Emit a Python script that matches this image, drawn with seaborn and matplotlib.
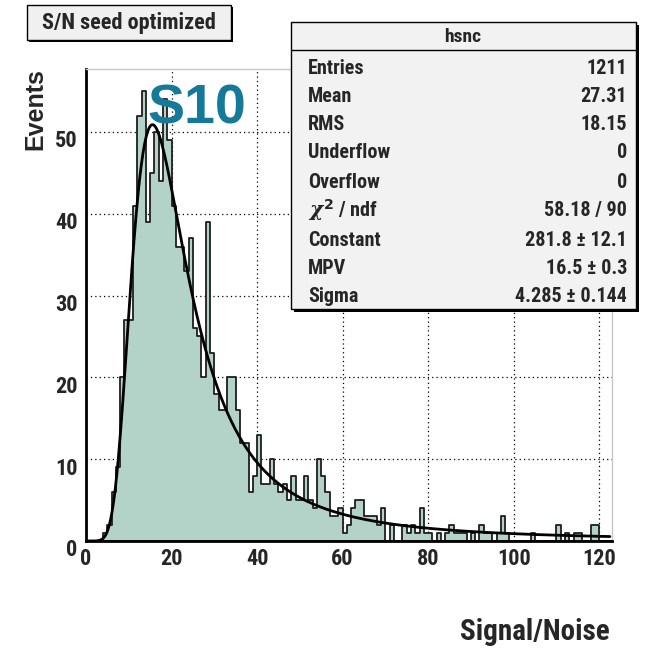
import numpy as np
import pandas as pd
import matplotlib
matplotlib.use("Agg")
import matplotlib.pyplot as plt
import seaborn as sns
from matplotlib.patches import Rectangle
from matplotlib.lines import Line2D
from matplotlib.ticker import MultipleLocator
from matplotlib.transforms import ScaledTranslation

# ---------------- data ----------------
hist_range = (0, 123)                  # 123 bins of width 1 (Signal/Noise)
counts = [0, 0, 0, 0, 1, 2, 6, 9, 20, 27,
          27, 41, 52, 55, 39, 45, 50, 44, 54, 49,
          41, 36, 36, 33, 37, 26, 25, 20, 39, 23,
          18, 16, 16, 20, 20, 16, 12, 12, 6, 8,
          13, 7, 7, 10, 7, 6, 7, 5, 8, 5,
          5, 8, 5, 4, 10, 8, 6, 3, 3, 4,
          1, 2, 4, 5, 5, 3, 3, 3, 2, 4,
          0, 2, 0, 0, 2, 1, 2, 1, 4, 1,
          1, 0, 1, 0, 1, 2, 1, 1, 1, 0,
          1, 0, 2, 1, 1, 0, 1, 3, 1, 0,
          0, 0, 0, 0, 1, 0, 0, 0, 0, 0,
          2, 0, 1, 0, 1, 1, 0, 0, 2, 2,
          0, 0, 0]

fit_constant = 281.8
fit_mpv = 16.5
fit_sigma = 4.285
fit_range = [0.0, 122.5]

x_ticks = [0, 20, 40, 60, 80, 100, 120]
y_ticks = [0, 10, 20, 30, 40, 50]

stat_labels = ["Entries", "Mean", "RMS", "Underflow", "Overflow",
               r"$\chi^{2}$ / ndf", "Constant", "MPV", "Sigma"]
stat_values = ["1211", "27.31", "18.15", "0", "0", "58.18 / 90",
               "281.8 ± 12.1", "16.5 ± 0.3", "4.285 ± 0.144"]

# ---------------- Landau (ROOT convention) ----------------
def landau_std(lam):
    lam = np.atleast_1d(lam).astype(float)
    z = (lam - np.log(np.pi / 2)) * 2 / np.pi
    th = np.linspace(-np.pi / 2, np.pi / 2, 6001)[1:-1]
    logV = (np.log(2 / np.pi) + np.log(np.pi / 2 + th) - np.log(np.cos(th))
            + (np.pi / 2 + th) * np.tan(th))
    logV = np.minimum(logV, 700)
    c = np.exp(-np.pi * z / 2)[:, None]
    integ = np.exp(logV[None, :] - c * np.exp(logV[None, :]))
    f = 0.5 * c[:, 0] * np.trapezoid(integ, th, axis=1)
    return f * 2 / np.pi

xs = np.linspace(fit_range[0], fit_range[1], 700)
ys = fit_constant * landau_std((xs - fit_mpv) / fit_sigma)

# ---------------- style ----------------
sns.set_style("white")
WIDE = ["Liberation Sans", "DejaVu Sans"]
NARROW = ["Roboto Condensed", "Liberation Sans", "DejaVu Sans"]
plt.rcParams["font.family"] = NARROW
plt.rcParams["font.weight"] = "bold"
plt.rcParams["mathtext.fontset"] = "custom"
plt.rcParams["mathtext.rm"] = "DejaVu Sans:bold"
plt.rcParams["mathtext.it"] = "DejaVu Serif:italic"

W, H = 646, 653
fig = plt.figure(figsize=(W / 100, H / 100), dpi=100)
fig.patch.set_facecolor("white")

def fx(px):
    return px / W

def fy(py):
    return 1 - py / H

ax = fig.add_axes([fx(86), fy(541), fx(612) - fx(86), fy(69) - fy(541)])

centers = np.arange(hist_range[0], hist_range[1]) + 0.5
df = pd.DataFrame({"sn": centers, "events": counts})
sns.histplot(data=df, x="sn", weights="events", binwidth=1, binrange=hist_range,
             element="step", fill=True, color="#b3d2c8", alpha=1,
             edgecolor="#1e1e1e", linewidth=1.3, ax=ax, zorder=2)
sns.lineplot(x=xs, y=ys, color="black", linewidth=2.0, ax=ax, zorder=3)

ax.set_xlim(0, 123)
ax.set_ylim(0, 57.7)
ax.set_xlabel("")
ax.set_ylabel("")
ax.set_xticks(x_ticks)
ax.set_yticks(y_ticks)
ax.xaxis.set_minor_locator(MultipleLocator(5))
ax.yaxis.set_minor_locator(MultipleLocator(2))
ax.tick_params(axis="both", which="both", direction="in", top=False, right=False,
               color="black", width=1.2)
ax.tick_params(axis="x", which="major", length=10, pad=5, labelsize=16)
ax.tick_params(axis="x", which="minor", length=6)
ax.tick_params(axis="y", which="major", length=10, pad=6, labelsize=16)
ax.tick_params(axis="y", which="minor", length=6)
ax.set_axisbelow(True)
ax.grid(True, which="major", linestyle=(0, (1, 2.5)), color="black", linewidth=0.9)
for s in ["left", "bottom"]:
    ax.spines[s].set_color("black")
    ax.spines[s].set_linewidth(2)
for s in ["top", "right"]:
    ax.spines[s].set_color("#c8c8c8")
    ax.spines[s].set_linewidth(1)
down = ScaledTranslation(0, -7 / 100, fig.dpi_scale_trans)
for lbl in ax.get_yticklabels():
    lbl.set_transform(lbl.get_transform() + down)

# ---------------- texts ----------------
def shadow_box(x0, y0, x1, y1, off=3, fc="#f2f2f2"):
    fig.patches.append(Rectangle((fx(x0 + off), fy(y1 + off)), fx(x1 - x0), fy(y0) - fy(y1),
                                 transform=fig.transFigure, fc="black", ec="none", zorder=5))
    fig.patches.append(Rectangle((fx(x0), fy(y1)), fx(x1 - x0), fy(y0) - fy(y1),
                                 transform=fig.transFigure, fc=fc, ec="black", lw=1, zorder=6))

shadow_box(27, 5, 231, 40, off=2, fc="#f0f0f0")
fig.text(fx(129), fy(23), "S/N seed optimized", ha="center", va="center",
         fontsize=16, fontweight="bold", zorder=7)

shadow_box(291, 22, 636, 309, off=3, fc="#f2f2f2")
fig.add_artist(Line2D([fx(291), fx(636)], [fy(50), fy(50)], color="black", lw=1,
                      transform=fig.transFigure, zorder=7))
fig.text(fx(463), fy(37), "hsnc", ha="center", va="center", fontsize=14,
         fontweight="bold", zorder=8)
row_y = [68, 97, 125, 153, 182, 210, 240, 268, 296]
for lab, val, yy in zip(stat_labels, stat_values, row_y):
    fig.text(fx(308), fy(yy), lab, ha="left", va="center", fontsize=14.5,
             fontweight="bold", zorder=8)
    fig.text(fx(627), fy(yy), val, ha="right", va="center", fontsize=14.5,
             fontweight="bold", zorder=8)

fig.text(fx(197), fy(110), "S10", ha="center", va="center", fontsize=40,
         fontweight="bold", color="#15799a", family=WIDE, zorder=8)

fig.text(fx(35), fy(68), "Events", rotation=90, ha="center", va="top",
         fontsize=18, fontweight="bold", family=WIDE, zorder=8)
fig.text(fx(610), fy(632), "Signal/Noise", ha="right", va="center",
         fontsize=21, fontweight="bold", zorder=8)

fig.savefig("out.png", dpi=100)
